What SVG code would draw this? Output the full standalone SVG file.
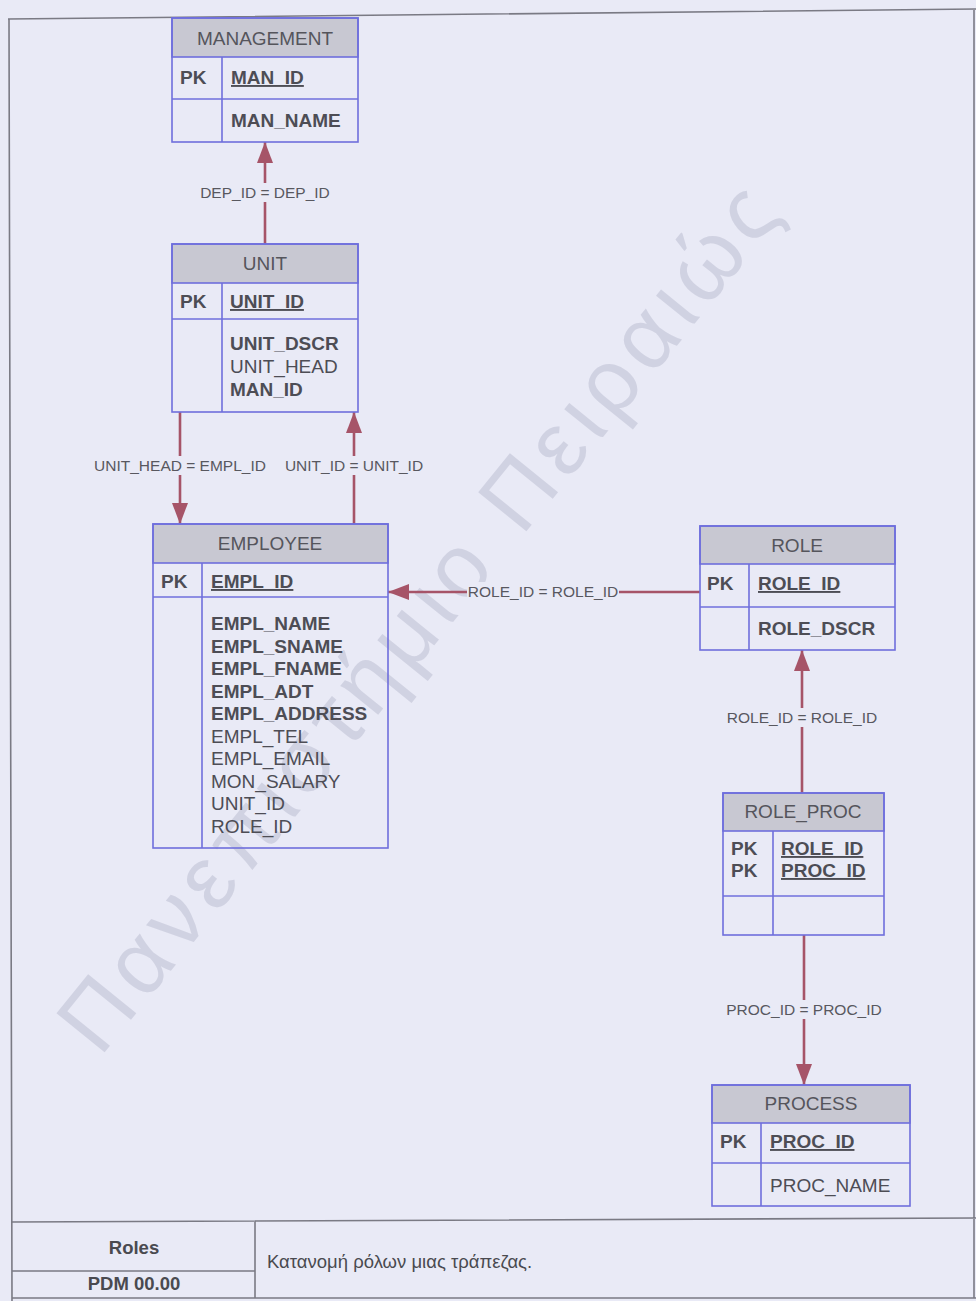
<svg xmlns="http://www.w3.org/2000/svg" width="976" height="1301" viewBox="0 0 976 1301">
<defs>
<style>
.bg{fill:#e9eaf6}
.frame{fill:none;stroke:#7a7a84;stroke-width:1.6}
.box{fill:none;stroke:#6f6fdc;stroke-width:1.6}
.hdr{fill:#c8c8d2;stroke:#6f6fdc;stroke-width:1.6}
.ln{stroke:#6f6fdc;stroke-width:1.6}
.t{font-family:"Liberation Sans",Arial,sans-serif;font-size:19px;fill:#4d4d55}
.b{font-weight:bold}
.h{text-anchor:middle;fill:#55555c}
.u{text-decoration:underline}
.conn{stroke:#a65468;stroke-width:2.6;fill:none}
.lab{font-family:"Liberation Sans",Arial,sans-serif;font-size:15.5px;fill:#58585f;text-anchor:middle}
.lbg{fill:#e9eaf6}
.wm{font-family:"Liberation Sans",Arial,sans-serif;font-size:90px;fill:#c4c6d8;opacity:0.65}
.ft{font-family:"Liberation Sans",Arial,sans-serif;font-size:18.5px;fill:#4a4a50}
</style>
<marker id="arr" viewBox="0 0 21 16" refX="21" refY="8" markerWidth="21" markerHeight="16" markerUnits="userSpaceOnUse" orient="auto">
<path d="M0,0 L21,8 L0,16 z" fill="#a65468"/>
</marker>
</defs>
<rect class="bg" x="0" y="0" width="976" height="1301"/>
<text class="wm" x="100" y="1058" transform="rotate(-51 100 1058)" textLength="1085" lengthAdjust="spacing">Πανεπιστήμιο Πειραιώς</text>
<g id="frame">
<path class="frame" d="M8,19 L976,9 M9,19 L12,1301 M974,9 L974,1298 M12,1298 L976,1298 M12,1222 L976,1218 M255,1221 L255,1298 M12,1271 L255,1271"/>
<text class="ft b" x="134" y="1254" text-anchor="middle">Roles</text>
<text class="ft b" x="134" y="1290" text-anchor="middle">PDM 00.00</text>
<text class="ft" x="267" y="1268">Κατανομή ρόλων μιας τράπεζας.</text>
</g>
<g id="connectors">
<line class="conn" x1="265" y1="244" x2="265" y2="142" marker-end="url(#arr)"/>
<rect class="lbg" x="196" y="183" width="138" height="19"/>
<text class="lab" x="265" y="198">DEP_ID = DEP_ID</text>
<line class="conn" x1="180" y1="412" x2="180" y2="524" marker-end="url(#arr)"/>
<rect class="lbg" x="90" y="456" width="180" height="19"/>
<text class="lab" x="180" y="471">UNIT_HEAD = EMPL_ID</text>
<line class="conn" x1="354" y1="524" x2="354" y2="412" marker-end="url(#arr)"/>
<rect class="lbg" x="282" y="456" width="144" height="19"/>
<text class="lab" x="354" y="471">UNIT_ID = UNIT_ID</text>
<line class="conn" x1="700" y1="592" x2="388" y2="592" marker-end="url(#arr)"/>
<rect class="lbg" x="467" y="582" width="152" height="18"/>
<text class="lab" x="543" y="597">ROLE_ID = ROLE_ID</text>
<line class="conn" x1="802" y1="793" x2="802" y2="650" marker-end="url(#arr)"/>
<rect class="lbg" x="724" y="708" width="156" height="19"/>
<text class="lab" x="802" y="723">ROLE_ID = ROLE_ID</text>
<line class="conn" x1="804" y1="935" x2="804" y2="1085" marker-end="url(#arr)"/>
<rect class="lbg" x="724" y="1000" width="160" height="19"/>
<text class="lab" x="804" y="1015">PROC_ID = PROC_ID</text>
</g>
<g id="management">
<rect class="hdr" x="172" y="18" width="186" height="39"/>
<rect class="box" x="172" y="18" width="186" height="124"/>
<line class="ln" x1="172" y1="99" x2="358" y2="99"/>
<line class="ln" x1="222" y1="57" x2="222" y2="142"/>
<text class="t h" x="265" y="45">MANAGEMENT</text>
<text class="t b" x="180" y="84">PK</text>
<text class="t b u" x="231" y="84">MAN_ID</text>
<text class="t b" x="231" y="127">MAN_NAME</text>
</g>
<g id="unit">
<rect class="hdr" x="172" y="244" width="186" height="39"/>
<rect class="box" x="172" y="244" width="186" height="168"/>
<line class="ln" x1="172" y1="319" x2="358" y2="319"/>
<line class="ln" x1="222" y1="283" x2="222" y2="412"/>
<text class="t h" x="265" y="270">UNIT</text>
<text class="t b" x="180" y="308">PK</text>
<text class="t b u" x="230" y="308">UNIT_ID</text>
<text class="t b" x="230" y="350">UNIT_DSCR</text>
<text class="t" x="230" y="373">UNIT_HEAD</text>
<text class="t b" x="230" y="396">MAN_ID</text>
</g>
<g id="employee">
<rect class="hdr" x="153" y="524" width="235" height="39"/>
<rect class="box" x="153" y="524" width="235" height="324"/>
<line class="ln" x1="153" y1="597" x2="388" y2="597"/>
<line class="ln" x1="202" y1="563" x2="202" y2="848"/>
<text class="t h" x="270" y="550">EMPLOYEE</text>
<text class="t b" x="161" y="588">PK</text>
<text class="t b u" x="211" y="588">EMPL_ID</text>
<text class="t b" x="211" y="630">EMPL_NAME</text>
<text class="t b" x="211" y="652.5">EMPL_SNAME</text>
<text class="t b" x="211" y="675">EMPL_FNAME</text>
<text class="t b" x="211" y="697.5">EMPL_ADT</text>
<text class="t b" x="211" y="720">EMPL_ADDRESS</text>
<text class="t" x="211" y="742.5">EMPL_TEL</text>
<text class="t" x="211" y="765">EMPL_EMAIL</text>
<text class="t" x="211" y="787.5">MON_SALARY</text>
<text class="t" x="211" y="810">UNIT_ID</text>
<text class="t" x="211" y="832.5">ROLE_ID</text>
</g>
<g id="role">
<rect class="hdr" x="700" y="526" width="195" height="38"/>
<rect class="box" x="700" y="526" width="195" height="124"/>
<line class="ln" x1="700" y1="607" x2="895" y2="607"/>
<line class="ln" x1="749" y1="564" x2="749" y2="650"/>
<text class="t h" x="797" y="552">ROLE</text>
<text class="t b" x="707" y="590">PK</text>
<text class="t b u" x="758" y="590">ROLE_ID</text>
<text class="t b" x="758" y="635">ROLE_DSCR</text>
</g>
<g id="role_proc">
<rect class="hdr" x="723" y="793" width="161" height="38"/>
<rect class="box" x="723" y="793" width="161" height="142"/>
<line class="ln" x1="723" y1="896" x2="884" y2="896"/>
<line class="ln" x1="773" y1="831" x2="773" y2="935"/>
<text class="t h" x="803" y="818">ROLE_PROC</text>
<text class="t b" x="731" y="855">PK</text>
<text class="t b" x="731" y="877">PK</text>
<text class="t b u" x="781" y="855">ROLE_ID</text>
<text class="t b u" x="781" y="877">PROC_ID</text>
</g>
<g id="process">
<rect class="hdr" x="712" y="1085" width="198" height="38"/>
<rect class="box" x="712" y="1085" width="198" height="121"/>
<line class="ln" x1="712" y1="1163" x2="910" y2="1163"/>
<line class="ln" x1="761" y1="1123" x2="761" y2="1206"/>
<text class="t h" x="811" y="1110">PROCESS</text>
<text class="t b" x="720" y="1148">PK</text>
<text class="t b u" x="770" y="1148">PROC_ID</text>
<text class="t" x="770" y="1192">PROC_NAME</text>
</g>
</svg>
